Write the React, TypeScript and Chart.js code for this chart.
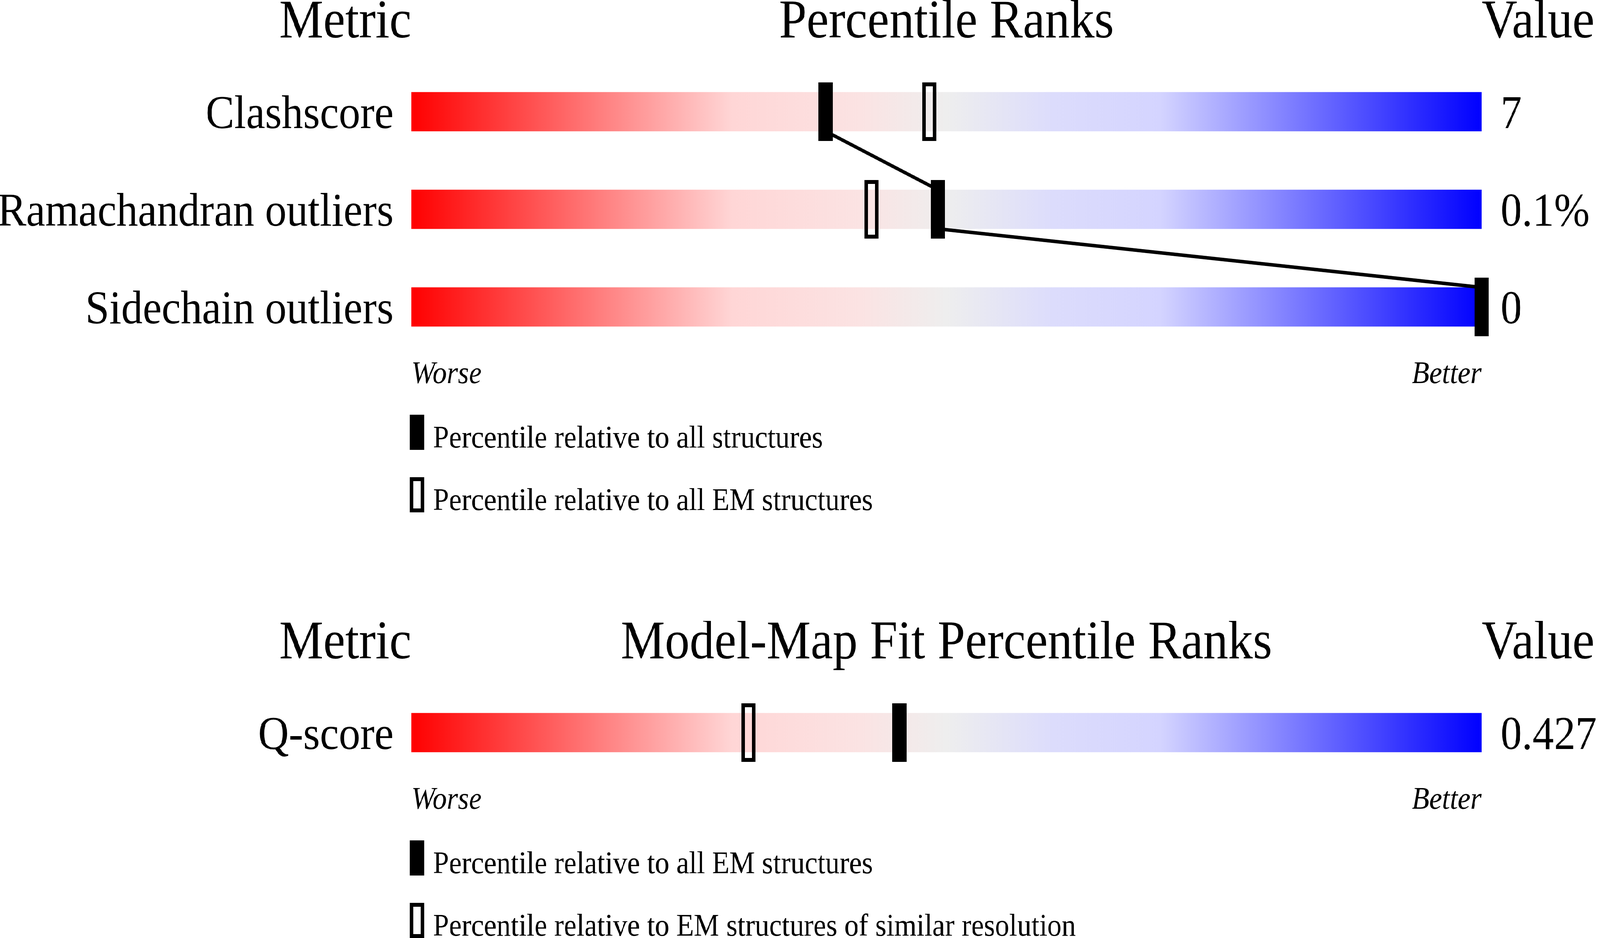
import { useEffect, useRef } from 'react';
import { Chart, registerables } from 'chart.js';

Chart.register(...registerables);

const SERIF = "'Liberation Serif', 'Times New Roman', serif";
const DESIGN_W = 4485;
const DESIGN_H = 2402;

// geometry / validation section
const validationMetrics = ['Clashscore', 'Ramachandran outliers', 'Sidechain outliers'];
const validationValues = ['7', '0.1%', '0'];
const validationAllPct = [38.7, 49.2, 100];
const validationEmPct = [48.4, 43.0, null];
const validationLegend = ['Percentile relative to all structures', 'Percentile relative to all EM structures'];

// model-map fit section
const fitMetrics = ['Q-score'];
const fitValues = ['0.427'];
const fitEmPct = [45.6];
const fitResPct = [31.5];
const fitLegend = ['Percentile relative to all EM structures', 'Percentile relative to EM structures of similar resolution'];

const axisEnds = ['Worse', 'Better'];

const ROW = 250; // px per metric row
const BAR = 100; // gradient bar thickness

const STOPS: [number, string][] = [
  [0, '#ff0000'],
  [0.3, '#ffd6d6'],
  [0.42, '#fbe3e3'],
  [0.5, '#eeeeee'],
  [0.6, '#dcdcfc'],
  [0.7, '#d4d4ff'],
  [1, '#0000ff'],
];

function markerCanvas(w: number, h: number, hollow: boolean) {
  const c = document.createElement('canvas');
  c.width = w;
  c.height = h;
  const g = c.getContext('2d')!;
  g.fillStyle = '#000';
  g.fillRect(0, 0, w, h);
  if (hollow) g.clearRect(10, 10, w - 20, h - 20);
  return c;
}

interface SliderProps {
  title: string;
  metrics: string[];
  values: string[];
  solid: (number | null)[];
  hollow: (number | null)[];
  legend: string[];
  connect: boolean;
  top: number;
  height: number;
  dpr: number;
}

const Slider = ({ title, metrics, values, solid, hollow, legend, connect, top, height, dpr }: SliderProps) => {
  const canvasRef = useRef(null as HTMLCanvasElement | null);
  const chartRef = useRef(null as any);

  useEffect(() => {
    if (!canvasRef.current) return;
    if (chartRef.current) chartRef.current.destroy();

    const n = metrics.length;
    const half = BAR / 2 / ROW;
    const solidImg = markerCanvas(40, 150, false);
    const hollowImg = markerCanvas(40, 150, true);
    const legendImgs = [markerCanvas(40, 90, false), markerCanvas(40, 90, true)];

    const points = (arr: (number | null)[]) =>
      arr.map((p, i) => (p == null ? null : { x: p, y: i })).filter(Boolean) as { x: number; y: number }[];

    // line from bottom of one marker to top of the next
    const linePts: { x: number; y: number }[] = [];
    if (connect) {
      solid.forEach((p, i) => {
        if (p == null) return;
        if (i > 0) linePts.push({ x: p, y: i - half });
        if (i < n - 1) linePts.push({ x: p, y: i + half });
      });
    }

    const textPlugin = {
      id: 'sliderText',
      afterDraw(chart: any) {
        const { ctx, chartArea, scales } = chart;
        const xs = scales.x;
        ctx.save();
        ctx.fillStyle = '#000';
        ctx.textBaseline = 'alphabetic';
        ctx.font = `139px ${SERIF}`;
        const hy = chartArea.top - 65;
        ctx.textAlign = 'right';
        ctx.fillText('Metric', xs.getPixelForValue(0), hy);
        ctx.textAlign = 'center';
        ctx.fillText(title, xs.getPixelForValue(50), hy);
        ctx.textAlign = 'left';
        ctx.fillText('Value', xs.getPixelForValue(100), hy);

        ctx.font = `80px ${SERIF}`;
        legend.forEach((label, k) => {
          const ty = chartArea.bottom + 151 + 160 * k;
          ctx.drawImage(legendImgs[k], chartArea.left - 4, ty);
          ctx.fillText(label, chartArea.left + 61, ty + 84);
        });
        ctx.restore();
      },
    };

    const rowTicks = (s: any) => {
      s.ticks = metrics.map((_, i) => ({ value: i }));
    };
    const noGrid = { display: false, drawTicks: false };

    chartRef.current = new Chart(canvasRef.current, {
      type: 'scatter',
      data: {
        datasets: [
          {
            type: 'bar',
            indexAxis: 'y',
            data: metrics.map((_, i) => ({ x: [0, 100], y: i })),
            backgroundColor: (c: any) => {
              const xs = c.chart.scales.x;
              const a = xs ? xs.getPixelForValue(0) : NaN;
              const b = xs ? xs.getPixelForValue(100) : NaN;
              if (!isFinite(a) || !isFinite(b) || a === b) return '#eeeeee';
              const g = c.chart.ctx.createLinearGradient(a, 0, b, 0);
              STOPS.forEach(([o, col]) => g.addColorStop(o, col));
              return g;
            },
            barThickness: BAR,
            borderWidth: 0,
            order: 3,
          },
          {
            type: 'line',
            data: linePts,
            borderColor: '#000',
            borderWidth: 9,
            pointRadius: 0,
            fill: false,
            tension: 0,
            clip: false,
            order: 2,
          },
          {
            type: 'scatter',
            data: points(hollow),
            pointStyle: hollowImg,
            pointRadius: 20,
            clip: false,
            order: 1,
          },
          {
            type: 'scatter',
            data: points(solid),
            pointStyle: solidImg,
            pointRadius: 20,
            clip: false,
            order: 0,
          },
        ] as any,
      },
      options: {
        responsive: true,
        maintainAspectRatio: false,
        animation: false,
        devicePixelRatio: dpr,
        events: [],
        layout: { padding: { top: 161, bottom: height - 161 - n * ROW - 100, left: 0, right: 0 } },
        plugins: { legend: { display: false }, tooltip: { enabled: false } },
        scales: {
          x: {
            type: 'linear',
            min: 0,
            max: 100,
            offset: false,
            position: 'bottom',
            grid: noGrid,
            border: { display: false },
            afterBuildTicks: (s: any) => {
              s.ticks = [{ value: 0 }, { value: 100 }];
            },
            afterFit: (s: any) => {
              s.height = 100;
            },
            ticks: {
              padding: 1,
              align: 'inner',
              autoSkip: false,
              maxRotation: 0,
              color: '#000',
              font: { family: SERIF, size: 80, style: 'italic' },
              callback: (_v: any, i: number) => axisEnds[i],
            },
          },
          y: {
            type: 'linear',
            min: -0.5,
            max: n - 0.5,
            offset: false,
            reverse: true,
            position: 'left',
            grid: noGrid,
            border: { display: false },
            afterBuildTicks: rowTicks,
            afterFit: (s: any) => {
              s.width = 1153;
            },
            ticks: {
              padding: 50,
              labelOffset: 10,
              autoSkip: false,
              color: '#000',
              font: { family: SERIF, size: 120 },
              callback: (v: any) => metrics[Number(v)],
            },
          },
          y2: {
            type: 'linear',
            min: -0.5,
            max: n - 0.5,
            offset: false,
            reverse: true,
            position: 'right',
            grid: noGrid,
            border: { display: false },
            afterBuildTicks: rowTicks,
            afterFit: (s: any) => {
              s.width = 332;
            },
            ticks: {
              padding: 53,
              labelOffset: 10,
              autoSkip: false,
              color: '#000',
              font: { family: SERIF, size: 120 },
              callback: (v: any) => values[Number(v)],
            },
          },
        },
      } as any,
      plugins: [textPlugin],
    });

    return () => {
      if (chartRef.current) {
        chartRef.current.destroy();
        chartRef.current = null;
      }
    };
  }, [title, metrics, values, solid, hollow, legend, connect, height, dpr]);

  return (
    <div style={{ position: 'absolute', left: 0, top, width: DESIGN_W, height }}>
      <canvas ref={canvasRef} />
    </div>
  );
};

export default function App() {
  // the layout is drawn at 4485x2402 and scaled to whatever viewport we get
  const vw = typeof window !== 'undefined' ? window.innerWidth : DESIGN_W;
  const vh = typeof window !== 'undefined' ? window.innerHeight : DESIGN_H;
  const kx = vw / DESIGN_W;
  const ky = vh / DESIGN_H;
  const dpr = (typeof window !== 'undefined' ? window.devicePixelRatio || 1 : 1) * Math.max(kx, ky);

  return (
    <div style={{ position: 'relative', width: vw, height: vh, overflow: 'hidden', background: '#fff' }}>
      <style>{'html,body{margin:0;padding:0;overflow:hidden;background:#fff}'}</style>
      <div
        style={{
          position: 'absolute',
          left: 0,
          top: 0,
          width: DESIGN_W,
          height: DESIGN_H,
          transform: `scale(${kx}, ${ky})`,
          transformOrigin: '0 0',
        }}
      >
        <Slider
          title="Percentile Ranks"
          metrics={validationMetrics}
          values={validationValues}
          solid={validationAllPct}
          hollow={validationEmPct}
          legend={validationLegend}
          connect
          top={0}
          height={1400}
          dpr={dpr}
        />
        <Slider
          title="Model-Map Fit Percentile Ranks"
          metrics={fitMetrics}
          values={fitValues}
          solid={fitEmPct}
          hollow={fitResPct}
          legend={fitLegend}
          connect={false}
          top={1590}
          height={812}
          dpr={dpr}
        />
      </div>
    </div>
  );
}
